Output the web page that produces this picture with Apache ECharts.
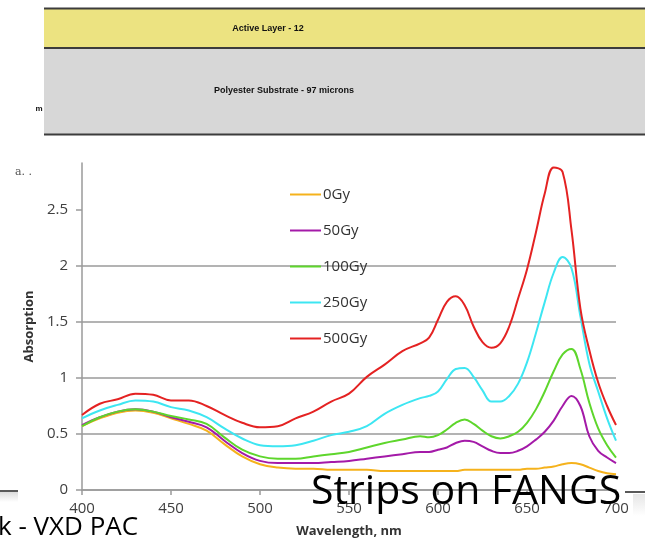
<!DOCTYPE html>
<html>
<head>
<meta charset="utf-8">
<script src="https://cdn.jsdelivr.net/npm/echarts@6/dist/echarts.min.js"></script>
<style>
  html, body { margin: 0; padding: 0; background: #fff; }
  #chart { width: 645px; height: 543px; }
</style>
</head>
<body>
<div id="chart"></div>
<script>
// Wavelength samples (nm)
const wavelengths = [400,410,420,430,440,450,460,470,480,490,500,510,520,530,540,550,560,570,580,
  590,595,600,605,610,615,620,625,630,635,640,645,650,655,660,665,670,675,680,685,690,695,700];

// Absorption per dose
const abs0Gy = [0.57,0.64,0.69,0.71,0.69,0.64,0.59,0.53,0.41,0.30,0.23,0.20,0.19,0.19,0.18,0.18,0.18,0.17,0.17,
  0.17,0.17,0.17,0.17,0.17,0.18,0.18,0.18,0.18,0.18,0.18,0.18,0.19,0.19,0.20,0.21,0.23,0.24,0.23,0.20,0.17,0.15,0.14];
const abs50Gy = [0.58,0.65,0.70,0.72,0.70,0.65,0.61,0.56,0.44,0.33,0.26,0.24,0.24,0.24,0.25,0.26,0.28,0.30,0.32,
  0.34,0.34,0.36,0.38,0.42,0.44,0.43,0.39,0.35,0.33,0.33,0.35,0.39,0.45,0.52,0.62,0.75,0.84,0.75,0.48,0.35,0.29,0.24];
const abs100Gy = [0.57,0.65,0.70,0.72,0.70,0.66,0.63,0.59,0.47,0.36,0.30,0.28,0.28,0.30,0.32,0.34,0.38,0.42,0.45,
  0.48,0.47,0.49,0.54,0.60,0.63,0.59,0.53,0.48,0.46,0.48,0.52,0.60,0.72,0.88,1.06,1.21,1.26,1.08,0.78,0.55,0.40,0.29];
const abs250Gy = [0.64,0.71,0.76,0.80,0.79,0.74,0.71,0.65,0.55,0.46,0.40,0.39,0.40,0.44,0.49,0.52,0.57,0.68,0.76,
  0.82,0.84,0.88,0.99,1.08,1.09,1.01,0.89,0.79,0.79,0.84,0.95,1.14,1.40,1.68,1.94,2.08,1.98,1.55,1.13,0.88,0.64,0.44];
const abs500Gy = [0.67,0.77,0.81,0.86,0.85,0.80,0.80,0.75,0.67,0.60,0.56,0.57,0.64,0.70,0.79,0.86,1.01,1.12,1.24,
  1.31,1.36,1.52,1.68,1.73,1.65,1.46,1.32,1.27,1.31,1.46,1.71,1.97,2.30,2.65,2.88,2.84,2.32,1.62,1.25,0.96,0.75,0.58];

const seriesNames = ['0Gy', '50Gy', '100Gy', '250Gy', '500Gy'];
const seriesValues = [abs0Gy, abs50Gy, abs100Gy, abs250Gy, abs500Gy];
const seriesColors = ['#F5B21C', '#A41AA8', '#5ED62C', '#3DE6F2', '#E42222'];

const yTicks = [0, 0.5, 1, 1.5, 2, 2.5];
const xTicks = [400, 450, 500, 550, 600, 650, 700];

const FONT = '"Open Sans", "DejaVu Sans", sans-serif';

const chart = echarts.init(document.getElementById('chart'), null, { renderer: 'canvas' });

const series = seriesNames.map((name, i) => ({
  name: name,
  type: 'line',
  data: wavelengths.map((w, j) => [w, seriesValues[i][j]]),
  smooth: 0.4,
  symbol: 'none',
  lineStyle: { color: seriesColors[i], width: 2 },
  itemStyle: { color: seriesColors[i] },
  z: 3 + i
}));

chart.setOption({
  animation: false,
  backgroundColor: '#ffffff',
  grid: { left: 82, right: 29, top: 163, bottom: 51, containLabel: false },
  xAxis: {
    type: 'value',
    min: 400, max: 700, interval: 50,
    name: 'Wavelength, nm',
    nameLocation: 'middle',
    nameGap: 35,
    nameTextStyle: { fontFamily: FONT, fontSize: 13, fontWeight: 'bold', color: '#333' },
    axisLine: { show: true, lineStyle: { color: '#9a9a9a', width: 1.5 } },
    axisTick: { show: true, length: 5, lineStyle: { color: '#9a9a9a', width: 1.5 } },
    axisLabel: { customValues: xTicks, margin: 11, fontFamily: FONT, fontSize: 15, color: '#404040' },
    splitLine: { show: false }
  },
  yAxis: {
    type: 'value',
    min: 0, max: 2.92, interval: 0.5,
    name: 'Absorption',
    nameLocation: 'middle',
    nameGap: 45,
    nameRotate: 90,
    nameTextStyle: { fontFamily: FONT, fontSize: 13, fontWeight: 'bold', color: '#333' },
    axisLine: { show: true, lineStyle: { color: '#9a9a9a', width: 1.5 } },
    axisTick: { show: true, inside: false, length: 6, customValues: yTicks, lineStyle: { color: '#9a9a9a', width: 1.5 } },
    axisLabel: { customValues: yTicks, margin: 14, fontFamily: FONT, fontSize: 15, color: '#404040' },
    splitLine: { show: true, showMaxLine: false, lineStyle: { color: '#9a9a9a', width: 1.5 } }
  },
  legend: {
    orient: 'vertical',
    left: 284,
    top: 182,
    itemWidth: 31,
    itemHeight: 14,
    itemGap: 21,
    data: seriesNames,
    itemStyle: { opacity: 0 },
    lineStyle: { width: 2 },
    textStyle: { fontFamily: FONT, fontSize: 15, color: '#333', padding: [0, 0, 0, -3] }
  },
  series: series,
  graphic: [
    // layered film diagram band
    { type: 'rect', z: 1, shape: { x: 44, y: 8, width: 620, height: 40 }, style: { fill: '#ECE381' } },
    { type: 'rect', z: 1, shape: { x: 44, y: 48, width: 620, height: 86 }, style: { fill: '#D7D7D7' } },
    { type: 'line', z: 2, shape: { x1: 44, y1: 8.5, x2: 645, y2: 8.5 }, style: { stroke: '#3c3c3c', lineWidth: 2 } },
    { type: 'line', z: 2, shape: { x1: 44, y1: 48, x2: 645, y2: 48 }, style: { stroke: '#3c3c3c', lineWidth: 2 } },
    { type: 'line', z: 2, shape: { x1: 44, y1: 134.5, x2: 645, y2: 134.5 }, style: { stroke: '#3c3c3c', lineWidth: 2 } },
    { type: 'text', z: 3, style: { x: 268, y: 29, text: 'Active Layer - 12', font: 'bold 9px "Liberation Sans", Arial, sans-serif', fill: '#111', align: 'center', verticalAlign: 'middle' } },
    { type: 'text', z: 3, style: { x: 284, y: 91, text: 'Polyester Substrate - 97 microns', font: 'bold 9px "Liberation Sans", Arial, sans-serif', fill: '#111', align: 'center', verticalAlign: 'middle' } },
    { type: 'text', z: 3, style: { x: 39, y: 109, text: 'm', font: 'bold 8px "Liberation Sans", Arial, sans-serif', fill: '#111', align: 'center', verticalAlign: 'middle' } },
    { type: 'text', z: 3, style: { x: 15, y: 172, text: 'a. .', font: '11px "DejaVu Serif", serif', fill: '#555', verticalAlign: 'middle' } },
    // slide rules at the bottom edges
    { type: 'rect', z: 1, shape: { x: 0, y: 492, width: 18, height: 10 }, style: { fill: new echarts.graphic.LinearGradient(0, 0, 0, 1, [{ offset: 0, color: '#dcdcdc' }, { offset: 1, color: '#ffffff' }]) } },
    { type: 'line', z: 2, shape: { x1: 0, y1: 491, x2: 18, y2: 491 }, style: { stroke: '#222', lineWidth: 1.5 } },
    { type: 'rect', z: 0, shape: { x: 633, y: 494, width: 12, height: 22 }, style: { fill: new echarts.graphic.LinearGradient(0, 0, 0, 1, [{ offset: 0, color: '#e6e6e6' }, { offset: 1, color: '#ffffff' }]) } },
    { type: 'line', z: 2, shape: { x1: 625, y1: 492, x2: 645, y2: 492 }, style: { stroke: '#222', lineWidth: 1.5 } },
    { type: 'text', z: 20, style: { x: 311, y: 492, text: 'Strips on FANGS', font: '41px "Open Sans", sans-serif', fill: '#000', verticalAlign: 'middle' } },
    { type: 'text', z: 20, style: { x: -2, y: 528, text: 'k - VXD PAC', font: '26px "Open Sans", sans-serif', fill: '#000', verticalAlign: 'middle' } }
  ]
});
</script>
</body>
</html>
